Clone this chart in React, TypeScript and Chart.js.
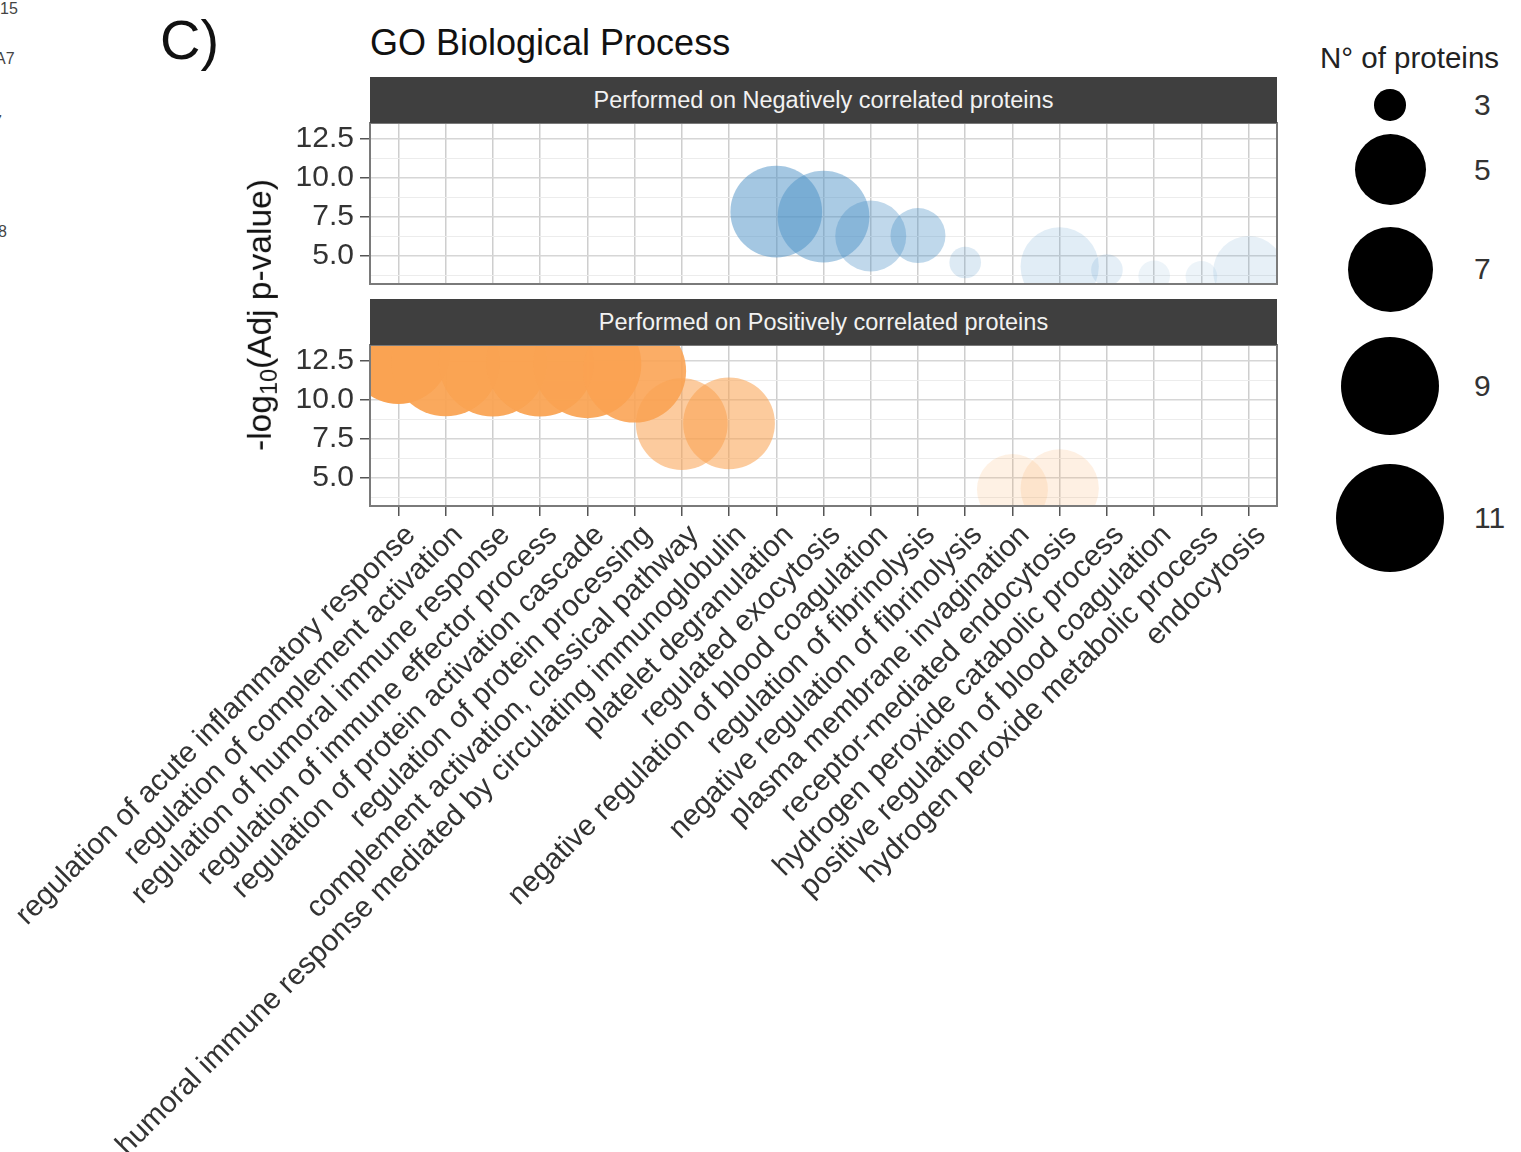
import { useEffect, useRef } from "react";
import { Chart, registerables } from "chart.js";

Chart.register(...registerables);

// ---------------- data ----------------
const categories = [
  "regulation of acute inflammatory response",
  "regulation of complement activation",
  "regulation of humoral immune response",
  "regulation of immune effector process",
  "regulation of protein activation cascade",
  "regulation of protein processing",
  "complement activation, classical pathway",
  "humoral immune response mediated by circulating immunoglobulin",
  "platelet degranulation",
  "regulated exocytosis",
  "negative regulation of blood coagulation",
  "regulation of fibrinolysis",
  "negative regulation of fibrinolysis",
  "plasma membrane invagination",
  "receptor-mediated endocytosis",
  "hydrogen peroxide catabolic process",
  "positive regulation of blood coagulation",
  "hydrogen peroxide metabolic process",
  "endocytosis",
];

// -log10(adj p-value), Negatively correlated proteins
const negValues: (number | null)[] = [
  null, null, null, null, null, null, null, null,
  7.84, 7.52, 6.28, 6.31, 4.58, null, 4.33, 4.1, 3.7, 3.67, 4.0,
];
// N° of proteins, Negatively correlated proteins
const negCounts: (number | null)[] = [
  null, null, null, null, null, null, null, null,
  8, 8, 5, 4, 3, null, 6, 3, 3, 3, 5,
];

// -log10(adj p-value), Positively correlated proteins
const posValues: (number | null)[] = [
  13.06, 12.42, 12.4, 12.4, 12.3, 11.86, 8.46, 8.5,
  null, null, null, null, null, 4.26, 4.33, null, null, null, null,
];
// N° of proteins, Positively correlated proteins
const posCounts: (number | null)[] = [
  10, 11, 11, 11, 11, 10, 8, 8,
  null, null, null, null, null, 5, 6, null, null, null, null,
];

const yTickValues = [5, 7.5, 10, 12.5];
const yTickLabels = ["5.0", "7.5", "10.0", "12.5"];

const sizeBreaks = [3, 5, 7, 9, 11];

const stripLabels = [
  "Performed on Negatively correlated proteins",
  "Performed on Positively correlated proteins",
];

// ---------------- styles / scales ----------------
const FONT = "'Liberation Sans', Arial, Helvetica, sans-serif";
const sizeRadii = [15.8, 35.5, 42.5, 49, 54]; // radius (px) of each size break
const NEG_RGB = [74, 144, 198];
const POS_RGB = [250, 163, 82];

function radiusFor(n: number): number {
  if (n <= sizeBreaks[0]) return sizeRadii[0];
  for (let i = 0; i < sizeBreaks.length - 1; i++) {
    if (n <= sizeBreaks[i + 1]) {
      const t = (n - sizeBreaks[i]) / (sizeBreaks[i + 1] - sizeBreaks[i]);
      const a0 = sizeRadii[i] ** 2;
      const a1 = sizeRadii[i + 1] ** 2;
      return Math.sqrt(a0 + (a1 - a0) * t);
    }
  }
  return sizeRadii[sizeRadii.length - 1];
}

const allValues = [...negValues, ...posValues].filter((v): v is number => v != null);
const vMin = Math.min(...allValues);
const vMax = Math.max(...allValues);
const yMin = vMin - 0.05 * (vMax - vMin);
const yMax = vMax + 0.05 * (vMax - vMin);
const alphaFor = (v: number) => 0.1 + 0.9 * (v - vMin) / (vMax - vMin);

const yStep = yTickValues[1] - yTickValues[0];
const yMinor = [yTickValues[0] - yStep / 2, ...yTickValues.map((v) => v + yStep / 2)];
const yAllTicks = [...yTickValues, ...yMinor]
  .filter((v) => v >= yMin && v <= yMax)
  .sort((a, b) => a - b);
const isMajor = (v: number) => yTickValues.indexOf(v) >= 0;

function buildPoints(values: (number | null)[], counts: (number | null)[]) {
  const pts: { x: number; y: number; r: number }[] = [];
  values.forEach((v, i) => {
    const c = counts[i];
    if (v != null && c != null) pts.push({ x: i, y: v, r: radiusFor(c) });
  });
  return pts;
}

const panelBorder = {
  id: "panelBorder",
  afterDatasetsDraw(chart: any) {
    const { ctx, chartArea: a } = chart;
    ctx.save();
    ctx.strokeStyle = "#7a7a7a";
    ctx.lineWidth = 2;
    ctx.strokeRect(a.left, a.top, a.right - a.left, a.bottom - a.top);
    ctx.restore();
  },
};

const Y_AXIS_W = 370;
const X_AXIS_H = 646;

function makeChart(
  canvas: HTMLCanvasElement,
  values: (number | null)[],
  counts: (number | null)[],
  rgb: number[],
  showX: boolean
) {
  const pts = buildPoints(values, counts);
  const colors = pts.map((p) => `rgba(${rgb[0]},${rgb[1]},${rgb[2]},${alphaFor(p.y).toFixed(3)})`);
  return new Chart(canvas, {
    type: "bubble",
    data: {
      datasets: [
        {
          data: pts,
          backgroundColor: colors,
          borderWidth: 0,
          hoverBorderWidth: 0,
          hoverRadius: 0,
          clip: 0,
        } as any,
      ],
    },
    plugins: [panelBorder],
    options: {
      responsive: false,
      animation: false,
      devicePixelRatio: 1,
      events: [],
      layout: {
        autoPadding: false,
        padding: { left: 0, top: 20, right: 23, bottom: showX ? 0 : 20 },
      },
      plugins: { legend: { display: false }, tooltip: { enabled: false } },
      scales: {
        x: {
          type: "linear",
          min: -0.6,
          max: categories.length - 1 + 0.6,
          border: { display: false },
          grid: {
            color: "#cecece",
            lineWidth: 1.5,
            drawTicks: showX,
            tickLength: 10,
            tickColor: "#555",
            tickWidth: 1.5,
          },
          afterBuildTicks: (scale: any) => {
            scale.ticks = categories.map((_, i) => ({ value: i }));
          },
          afterFit: (scale: any) => {
            scale.height = showX ? X_AXIS_H : 0;
            scale.paddingLeft = 0;
            scale.paddingRight = 0;
            scale.paddingTop = 0;
            scale.paddingBottom = 0;
          },
          ticks: {
            display: showX,
            autoSkip: false,
            minRotation: 45,
            maxRotation: 45,
            labelOffset: 12.5,
            padding: 2,
            color: "#333",
            font: { family: FONT, size: 29.6, lineHeight: 1.2 },
            callback: (value: any) => categories[Number(value)] ?? "",
          },
        },
        y: {
          type: "linear",
          min: yMin,
          max: yMax,
          border: { display: false },
          grid: {
            color: (ctx: any) => (isMajor(ctx.tick?.value) ? "#d6d6d6" : "#ececec"),
            lineWidth: (ctx: any) => (isMajor(ctx.tick?.value) ? 1.5 : 1),
            drawTicks: true,
            tickLength: 10,
            tickWidth: 1.5,
            tickColor: (ctx: any) => (isMajor(ctx.tick?.value) ? "#555" : "rgba(0,0,0,0)"),
          },
          afterBuildTicks: (scale: any) => {
            scale.ticks = yAllTicks.map((v) => ({ value: v }));
          },
          afterFit: (scale: any) => {
            scale.width = Y_AXIS_W;
            scale.paddingLeft = 0;
            scale.paddingRight = 0;
            scale.paddingTop = 0;
            scale.paddingBottom = 0;
          },
          ticks: {
            autoSkip: false,
            padding: 6,
            color: "#333",
            font: { family: FONT, size: 30 },
            callback: (value: any) => {
              const idx = yTickValues.indexOf(Number(value));
              return idx >= 0 ? yTickLabels[idx] : "";
            },
          },
        },
      },
    } as any,
  });
}

// legend layout
const legendRadii = sizeBreaks.map((n) => radiusFor(n));
const legendKeyH = legendRadii.map((r) => 1.29 * 2 * r - 1.2);
const legendCenters: number[] = [];
legendKeyH.forEach((h, i) => {
  if (i === 0) legendCenters.push(105);
  else legendCenters.push(legendCenters[i - 1] + (legendKeyH[i - 1] + h) / 2);
});

export default function App() {
  const topRef = useRef<HTMLCanvasElement>(null);
  const botRef = useRef<HTMLCanvasElement>(null);

  useEffect(() => {
    const c1 = makeChart(topRef.current!, negValues, negCounts, NEG_RGB, false);
    const c2 = makeChart(botRef.current!, posValues, posCounts, POS_RGB, true);
    return () => {
      c1.destroy();
      c2.destroy();
    };
  }, []);

  const abs = (extra: any) => ({ position: "absolute" as const, ...extra });

  return (
    <div
      style={{
        position: "absolute",
        left: 0,
        top: 0,
        width: 1521,
        height: 1152,
        overflow: "hidden",
        background: "#fff",
        fontFamily: FONT,
        color: "#111",
      }}
    >
      {/* fragments of the neighbouring panel */}
      <div style={abs({ left: 0, top: 1, fontSize: 16, lineHeight: 1, color: "#444" })}>15</div>
      <div style={abs({ left: -5, top: 51, fontSize: 16, lineHeight: 1, color: "#444" })}>A7</div>
      <div style={abs({ left: -7, top: 114, fontSize: 16, lineHeight: 1, color: "#444" })}>7</div>
      <div style={abs({ left: -2, top: 224, fontSize: 16, lineHeight: 1, color: "#444" })}>8</div>

      <div style={abs({ left: 160, top: 12, fontSize: 56, lineHeight: 1, color: "#111" })}>C)</div>
      <div style={abs({ left: 370, top: 25, fontSize: 36, lineHeight: 1, color: "#111", whiteSpace: "nowrap" })}>
        GO Biological Process
      </div>

      <canvas
        ref={topRef}
        width={1300}
        height={201}
        style={{ position: "absolute", left: 0, top: 103, width: 1300, height: 201 }}
      />
      <canvas
        ref={botRef}
        width={1300}
        height={827}
        style={{ position: "absolute", left: 0, top: 325, width: 1300, height: 827 }}
      />

      {stripLabels.map((s, i) => (
        <div
          key={s}
          style={abs({
            left: 370,
            top: i === 0 ? 77 : 299,
            width: 907,
            height: 46,
            background: "#3f3f3f",
            color: "#f2f2f2",
            fontSize: 23.5,
            display: "flex",
            alignItems: "center",
            justifyContent: "center",
            whiteSpace: "nowrap",
          })}
        >
          {s}
        </div>
      ))}

      <div
        style={abs({
          left: 262,
          top: 315,
          transform: "translate(-50%, -50%) rotate(-90deg)",
          fontSize: 33.5,
          lineHeight: 1,
          whiteSpace: "nowrap",
          color: "#111",
        })}
      >
        -log<sub style={{ fontSize: "0.7em", verticalAlign: "-0.25em" }}>10</sub>(Adj p-value)
      </div>

      {/* size legend */}
      <div style={abs({ left: 1320, top: 43, fontSize: 29.5, lineHeight: 1, whiteSpace: "nowrap", color: "#222" })}>
        N° of proteins
      </div>
      {sizeBreaks.map((n, i) => (
        <div key={n}>
          <div
            style={abs({
              left: 1390 - legendRadii[i],
              top: legendCenters[i] - legendRadii[i],
              width: 2 * legendRadii[i],
              height: 2 * legendRadii[i],
              borderRadius: "50%",
              background: "#000",
            })}
          />
          <div
            style={abs({
              left: 1474,
              top: legendCenters[i],
              transform: "translateY(-50%)",
              fontSize: 30,
              lineHeight: 1,
              color: "#333",
            })}
          >
            {n}
          </div>
        </div>
      ))}
    </div>
  );
}
